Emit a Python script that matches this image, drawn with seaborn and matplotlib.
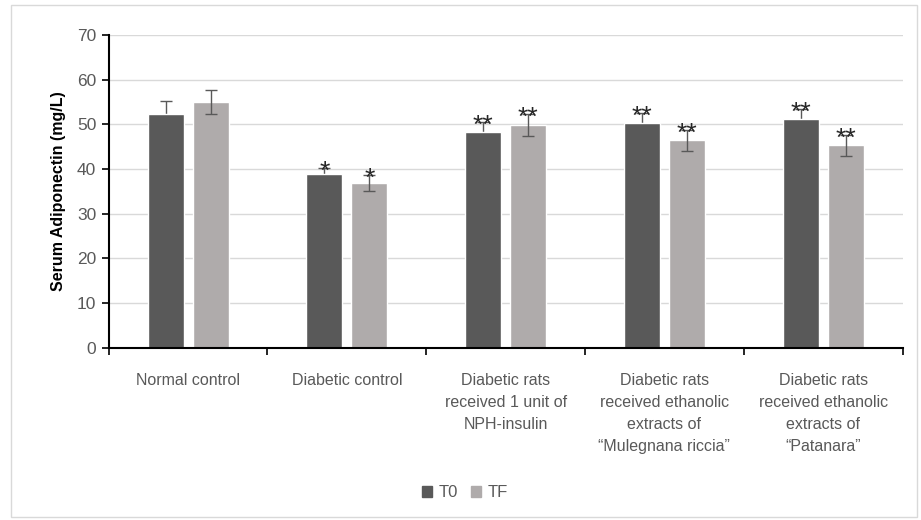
import matplotlib
matplotlib.use("Agg")
import matplotlib.pyplot as plt
import numpy as np
import pandas as pd
import seaborn as sns
from matplotlib.patches import Rectangle

groups = ["Normal control", "Diabetic control",
          "Diabetic rats\nreceived 1 unit of\nNPH-insulin",
          "Diabetic rats\nreceived ethanolic\nextracts of\n\u201cMulegnana riccia\u201d",
          "Diabetic rats\nreceived ethanolic\nextracts of\n\u201cPatanara\u201d"]
t0_vals = [52.2, 38.9, 48.2, 50.2, 51.1]
tf_vals = [54.9, 36.9, 49.9, 46.4, 45.3]
t0_err = [2.9, 1.3, 2.4, 2.4, 2.3]
tf_err = [2.7, 1.8, 2.5, 2.3, 2.3]
t0_marks = ["", "*", "**", "**", "**"]
tf_marks = ["", "*", "**", "**", "**"]

df = pd.DataFrame({
    "group": groups * 2,
    "time": ["T0"] * 5 + ["TF"] * 5,
    "value": t0_vals + tf_vals,
})

sns.set_style("white")
plt.rcParams['font.family'] = ['Liberation Sans', 'DejaVu Sans']

fig = plt.figure(figsize=(9.21, 5.2), dpi=100)
ax = fig.add_axes([0.118, 0.331, 0.862, 0.602])
fig.patches.append(Rectangle((0.012, 0.005), 0.984, 0.985, transform=fig.transFigure,
                             fill=False, edgecolor="#D9D9D9", linewidth=1))

palette = {"T0": "#595959", "TF": "#AFABAB"}
sns.barplot(data=df, x="group", y="value", hue="time", palette=palette,
            width=0.566, gap=0.2, saturation=1, ax=ax, legend=False, zorder=2)

ecol = "#595959"
# T0 error bars sit behind the dark bars, so only the upper half shows
for cont, vals, errs, marks, z in [
        (ax.containers[0], t0_vals, t0_err, t0_marks, 1.9),
        (ax.containers[1], tf_vals, tf_err, tf_marks, 3)]:
    xs = [p.get_x() + p.get_width() / 2 for p in cont.patches]
    ax.errorbar(xs, vals, yerr=errs, fmt="none", ecolor=ecol, elinewidth=1,
                capsize=4, capthick=1, zorder=z)
    for x, v, e, m in zip(xs, vals, errs, marks):
        if m:
            ax.text(x, v + e - 0.9, m, ha="center", va="center", fontsize=19,
                    color="#262626", zorder=4)

ax.set_ylim(0, 70)
ax.set_xlim(-0.5, 4.5)
ax.set_yticks(range(0, 71, 10))
ax.yaxis.grid(True, color="#D9D9D9", linewidth=1)
ax.set_axisbelow(True)
ax.set_ylabel("Serum Adiponectin (mg/L)", fontsize=11.5, fontweight="bold",
              color="#000000", labelpad=8)
ax.set_xlabel("")

ax.set_xticks(np.arange(-0.5, 5, 1))
ax.set_xticklabels([])
ax.set_xticks(range(5), minor=True)
ax.set_xticklabels(groups, minor=True, fontsize=11.5, color="#595959", linespacing=1.6)
ax.tick_params(axis="x", which="major", direction="out", length=5, width=1.2, color="black")
ax.tick_params(axis="x", which="minor", length=0, pad=18)
ax.tick_params(axis="y", direction="out", length=5, width=1.2, color="black",
               labelsize=12.5, labelcolor="#595959", pad=4)
ax.tick_params(left=True, bottom=True, which="major")

for s in ["top", "right"]:
    ax.spines[s].set_visible(False)
for s in ["left", "bottom"]:
    ax.spines[s].set_color("black")
    ax.spines[s].set_linewidth(1.5)

handles = [Rectangle((0, 0), 1, 1, color=palette[k]) for k in ["T0", "TF"]]
fig.legend(handles, ["T0", "TF"], loc="center", bbox_to_anchor=(0.505, 0.052),
           ncol=2, frameon=False, fontsize=12, handlelength=0.6, handleheight=0.6,
           handletextpad=0.4, columnspacing=0.8, labelcolor="#595959")

fig.savefig("out.png", dpi=100)
